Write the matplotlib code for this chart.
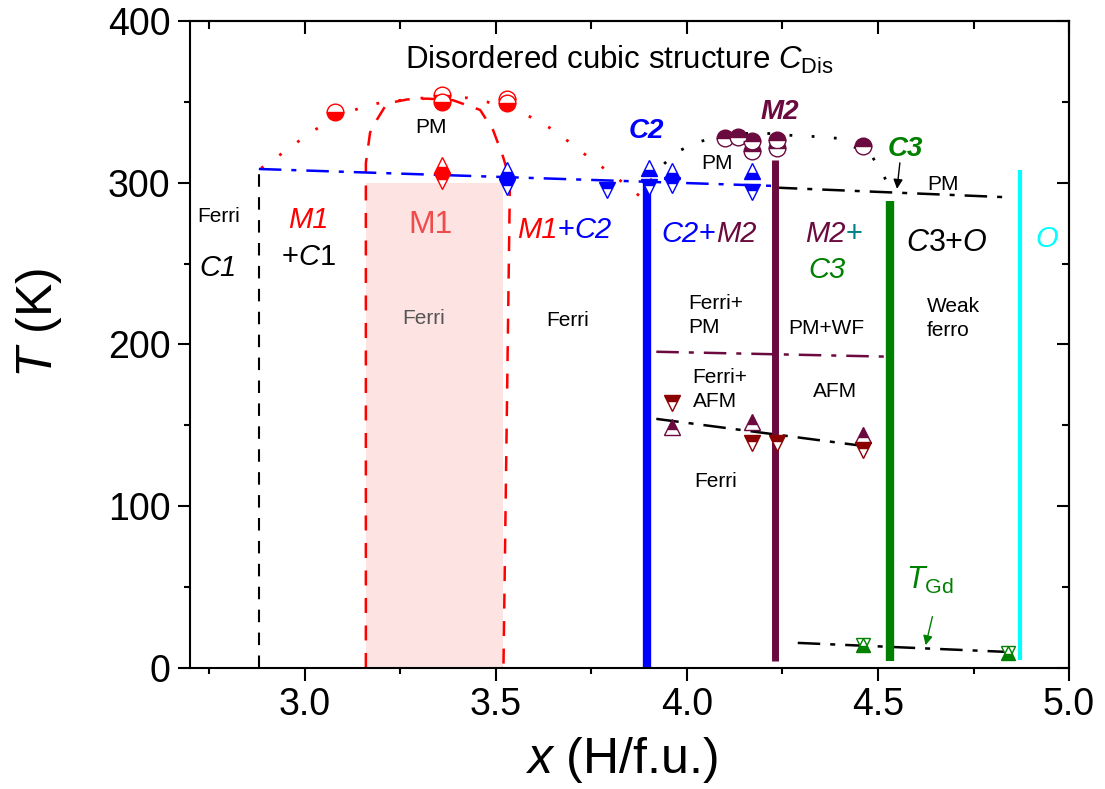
import matplotlib.pyplot as plt
from matplotlib.ticker import MultipleLocator

plt.rcParams['font.family'] = ['Liberation Sans', 'DejaVu Sans']
plt.rcParams['mathtext.fontset'] = 'custom'
plt.rcParams['mathtext.rm'] = 'Liberation Sans'
plt.rcParams['mathtext.it'] = 'Liberation Sans:italic'
plt.rcParams['mathtext.bf'] = 'Liberation Sans:bold'

RED = '#ff0000'
BLUE = '#0000ff'
WINE = '#6a0a3e'
BROWN = '#8b0000'
GREEN = '#008000'
CYAN = '#00ffff'
TEAL = '#008080'

# --- measured points ---
m1_tc_x = [3.08, 3.36, 3.36, 3.53, 3.53]
m1_tc_T = [344, 354, 350, 352, 349]

m1_up_x, m1_up_T = [3.36], [311]
m1_dn_x, m1_dn_T = [3.36], [301]

c2_up_x = [3.53, 3.90, 3.96, 4.17]
c2_up_T = [308, 309, 307, 307]
c2_dn_x = [3.53, 3.79, 3.90, 3.96, 4.17]
c2_dn_T = [297.5, 295.5, 297.5, 298.5, 294.5]

m2_tc_x = [4.10, 4.135, 4.17, 4.17, 4.235, 4.235, 4.46]
m2_tc_T = [327.5, 328, 325.5, 319.5, 326.5, 321.5, 323]

afm_up_x = [3.96, 4.17, 4.46]
afm_up_T = [149, 152, 144]
afm_dn_x = [3.96, 4.17, 4.235, 4.46]
afm_dn_T = [164, 139, 139, 135]

gd_x = [4.46, 4.84]
gd_T = [14, 9]

# --- guide lines ---
m1_dot_x = [2.886, 2.928, 2.969, 3.014, 3.058, 3.108, 3.16, 3.21, 3.315, 3.425,
            3.477, 3.571, 3.621, 3.66, 3.747, 3.788, 3.833, 3.875]
m1_dot_T = [309, 316, 323, 331, 337, 343, 347.5, 350, 352.5, 352.5,
            350, 343, 337, 331, 315, 308, 300, 292]

m1_dash_x = [3.16, 3.16, 3.171, 3.189, 3.215, 3.268, 3.32, 3.388, 3.459, 3.493,
             3.519, 3.537, 3.52]
m1_dash_T = [0, 312, 331, 339, 349, 351.5, 352, 351, 345, 332.5, 316, 302, 0]

m2_dot_x = [3.904, 3.935, 3.974, 4.021, 4.079, 4.131, 4.184, 4.236, 4.288, 4.341,
            4.393, 4.484, 4.511, 4.537]
m2_dot_T = [301, 310.5, 319, 324.5, 328.5, 330, 331, 330, 329, 328.5,
            327.5, 316.5, 306, 294.5]

c2_tc_x, c2_tc_T = [2.88, 4.23], [308.5, 298]
c3_tc_x, c3_tc_T = [4.23, 4.84], [297, 291]
wf_x, wf_T = [3.92, 4.52], [195.5, 192.5]
afm_x, afm_T = [3.92, 4.47], [154, 137]
tgd_x, tgd_T = [4.29, 4.83], [15.5, 10]

c1_edge = 2.88
m1_lo, m1_hi, m1_top = 3.16, 3.52, 300
c2_edge, c2_top = 3.896, 300
m2_edge, m2_top = 4.23, 314
c3_edge, c3_top = 4.531, 289
o_edge, o_top = 4.872, 308

fig = plt.figure(figsize=(11.05, 7.89), dpi=100)
ax = fig.add_axes([0.172, 0.1534, 0.7955, 0.82])

# M1 region shading
ax.fill_between([m1_lo, m1_hi], 0, m1_top, color='#fde4e2', lw=0, zorder=0)

dashdot = (0, (9, 4, 2, 4))
ax.plot([c1_edge, c1_edge], [0, 308.5], color='k', lw=1.5, ls=(0, (6, 5)))
ax.plot(m1_dash_x, m1_dash_T, color=RED, lw=1.8, ls=(0, (6, 5)))
ax.plot(m1_dot_x, m1_dot_T, color=RED, lw=2, ls=(0, (1, 7)))
ax.plot(m2_dot_x, m2_dot_T, color='k', lw=2, ls=(0, (1, 7)))
ax.plot(c2_tc_x, c2_tc_T, color=BLUE, lw=1.8, ls=dashdot)
ax.plot(c3_tc_x, c3_tc_T, color='k', lw=1.8, ls=dashdot)
ax.plot(wf_x, wf_T, color=WINE, lw=1.8, ls=dashdot)
ax.plot(afm_x, afm_T, color='k', lw=1.8, ls=dashdot)
ax.plot(tgd_x, tgd_T, color='k', lw=1.8, ls=dashdot)

# phase boundaries
ax.plot([c2_edge, c2_edge], [0, c2_top], color=BLUE, lw=6, solid_capstyle='butt')
ax.plot([m2_edge, m2_edge], [4, m2_top], color=WINE, lw=5, solid_capstyle='butt')
ax.plot([c3_edge, c3_edge], [4, c3_top], color=GREEN, lw=6, solid_capstyle='butt')
ax.plot([o_edge, o_edge], [5, o_top], color=CYAN, lw=3, solid_capstyle='butt')


def pts(x, y, marker, color, fill, ms=11):
    ax.plot(x, y, ls='none', marker=marker, ms=ms, mec=color, mfc=color,
            mfcalt='white', fillstyle=fill, mew=1, zorder=4)


pts(m1_tc_x, m1_tc_T, 'o', RED, 'bottom', 12)
pts(m1_up_x, m1_up_T, '^', RED, 'bottom')
pts(m1_dn_x, m1_dn_T, 'v', RED, 'top')
pts(c2_up_x, c2_up_T, '^', BLUE, 'bottom')
pts(c2_dn_x, c2_dn_T, 'v', BLUE, 'top')
pts(m2_tc_x, m2_tc_T, 'o', WINE, 'top', 12)
pts(afm_up_x, afm_up_T, '^', WINE, 'top')
pts(afm_dn_x, afm_dn_T, 'v', BROWN, 'top')
pts(gd_x, gd_T, 'v', GREEN, 'bottom', 10)
pts(gd_x, gd_T, '^', GREEN, 'bottom', 10)


def chain(x, y, parts, size=21):
    t = None
    for s, c, st in parts:
        if t is None:
            t = ax.text(x, y, s, color=c, style=st, fontsize=size,
                        ha='left', va='center')
        else:
            t = ax.annotate(s, xy=(1, 0), xycoords=t, color=c, style=st,
                            fontsize=size, ha='left', va='bottom')


small = 15
ax.text(3.823, 376, r'Disordered cubic structure $C_{\rm Dis}$', fontsize=22.5,
        ha='center', va='center')
ax.text(3.33, 334, 'PM', fontsize=small, ha='center', va='center')
ax.text(2.72, 279, 'Ferri', fontsize=small, ha='left', va='center')
ax.text(2.725, 247, 'C1', fontsize=21, style='italic', ha='left', va='center')
ax.text(3.009, 277, 'M1', fontsize=21, style='italic', color=RED,
        ha='center', va='center')
ax.text(3.009, 254, r'+$\mathit{C1}$', fontsize=21, ha='center', va='center')
ax.text(3.33, 274, 'M1', fontsize=23, color='#f24b4b', ha='center', va='center')
ax.text(3.31, 216, 'Ferri', fontsize=small, color='#555555', ha='center', va='center')
ax.text(3.689, 215, 'Ferri', fontsize=small, ha='center', va='center')
chain(3.556, 271, [('M1', RED, 'italic'), ('+', BLUE, 'normal'), ('C2', BLUE, 'italic')])
ax.text(3.895, 332, 'C2', fontsize=20, style='italic', weight='bold', color=BLUE,
        ha='center', va='center')
ax.text(4.244, 344, 'M2', fontsize=20, style='italic', weight='bold', color=WINE,
        ha='center', va='center')
ax.text(4.078, 312, 'PM', fontsize=small, ha='center', va='center')
chain(3.934, 268, [('C2', BLUE, 'italic'), ('+', BLUE, 'normal'), ('M2', WINE, 'italic')])
chain(4.309, 268, [('M2', WINE, 'italic'), ('+', TEAL, 'normal')])
ax.text(4.366, 246, 'C3', fontsize=21, style='italic', color=GREEN,
        ha='center', va='center')
ax.text(4.571, 321, 'C3', fontsize=20, style='italic', weight='bold', color=GREEN,
        ha='center', va='center')
ax.text(4.671, 299, 'PM', fontsize=small, ha='center', va='center')
ax.text(4.68, 263, r'$\mathit{C3}$+$\mathit{O}$', fontsize=22, ha='center', va='center')
ax.text(4.941, 265, 'O', fontsize=21, style='italic', color=CYAN, ha='center', va='center')
ax.text(4.628, 216, 'Weak\nferro', fontsize=small, ha='left', va='center', linespacing=1.35)
ax.text(4.004, 218, 'Ferri+\nPM', fontsize=small, ha='left', va='center', linespacing=1.35)
ax.text(4.366, 210, 'PM+WF', fontsize=small, ha='center', va='center')
ax.text(4.015, 172, 'Ferri+\nAFM', fontsize=small, ha='left', va='center', linespacing=1.35)
ax.text(4.388, 171, 'AFM', fontsize=small, ha='center', va='center')
ax.text(4.074, 115, 'Ferri', fontsize=small, ha='center', va='center')
ax.text(4.636, 54, r'$T_{\rm Gd}$', fontsize=22, color=GREEN, ha='center', va='center')

ax.annotate('', xy=(4.549, 294.5), xytext=(4.558, 314),
            arrowprops=dict(arrowstyle='-|>', color='k', lw=1, mutation_scale=14))
ax.annotate('', xy=(4.623, 12.4), xytext=(4.644, 33.4),
            arrowprops=dict(arrowstyle='-|>', color=GREEN, lw=1, mutation_scale=14))

ax.set_xlim(2.7, 5.0)
ax.set_ylim(0, 400)
ax.xaxis.set_major_locator(MultipleLocator(0.5))
ax.xaxis.set_minor_locator(MultipleLocator(0.25))
ax.yaxis.set_major_locator(MultipleLocator(100))
ax.yaxis.set_minor_locator(MultipleLocator(50))
ax.xaxis.set_major_formatter('{x:.1f}')
for s in ax.spines.values():
    s.set_linewidth(1.5)
ax.tick_params(which='major', direction='out', length=9, width=1.5,
               labelsize=27, pad=5)
ax.tick_params(which='minor', direction='out', length=4, width=1.5)

top = ax.secondary_xaxis('top')
top.xaxis.set_major_locator(MultipleLocator(0.5))
top.xaxis.set_minor_locator(MultipleLocator(0.25))
top.tick_params(which='major', direction='in', length=9, width=1.5, labeltop=False)
top.tick_params(which='minor', direction='in', length=5.5, width=1.5)
right = ax.secondary_yaxis('right')
right.yaxis.set_major_locator(MultipleLocator(100))
right.yaxis.set_minor_locator(MultipleLocator(50))
right.tick_params(which='major', direction='in', length=9, width=1.5, labelright=False)
right.tick_params(which='minor', direction='in', length=5, width=1.5)
for s in list(top.spines.values()) + list(right.spines.values()):
    s.set_linewidth(1.5)

ax.set_xlabel(r'$x$ (H/f.u.)', fontsize=36)
ax.set_ylabel(r'$T$ (K)', fontsize=36)
ax.xaxis.set_label_coords(0.49, -0.103)
ax.yaxis.set_label_coords(-0.172, 0.533)
ax.yaxis.label.set_va('center')

fig.savefig('out.png', dpi=100)
